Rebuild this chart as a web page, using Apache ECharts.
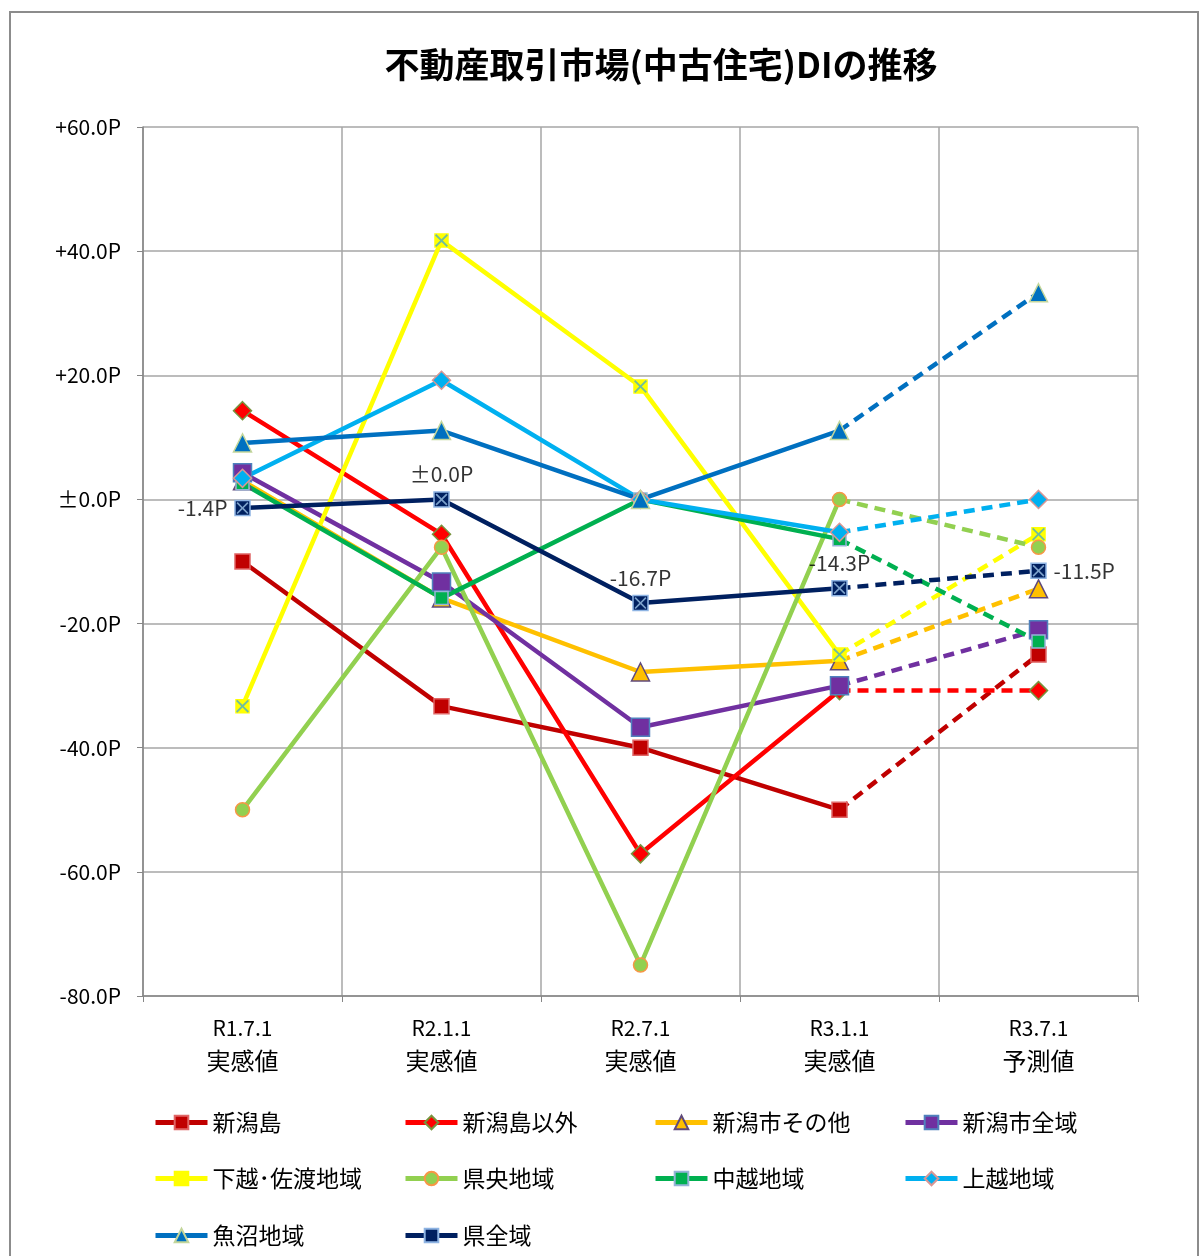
<!DOCTYPE html>
<html>
<head>
<meta charset="utf-8">
<script src="https://cdn.jsdelivr.net/npm/echarts@6/dist/echarts.min.js"></script>
<style>
  html, body { margin: 0; padding: 0; background: #fff; }
  #chart { width: 1201px; height: 1256px; }
</style>
</head>
<body>
<div id="chart"></div>
<script>
const categories = ['R1.7.1|実感値', 'R2.1.1|実感値', 'R2.7.1|実感値', 'R3.1.1|実感値', 'R3.7.1|予測値'];
const yTicks = [-80, -60, -40, -20, 0, 20, 40, 60];

const niigataJima = [-10.0, -33.3, -40.0, -50.0, -25.0];
const niigataJimaIgai = [14.3, -5.6, -57.1, -30.8, -30.8];
const niigataShiSonota = [3.0, -15.9, -27.8, -26.0, -14.4];
const niigataShiZen = [4.3, -13.3, -36.7, -30.0, -21.0];
const kaetsuSado = [-33.3, 41.7, 18.2, -25.0, -5.6];
const kenou = [-50.0, -7.7, -75.0, 0.0, -7.7];
const chuetsu = [2.6, -15.9, 0.0, -6.4, -22.9];
const joetsu = [3.4, 19.2, 0.0, -5.3, 0.0];
const uonuma = [9.1, 11.1, 0.0, 11.1, 33.3];
const kenZen = [-1.4, 0.0, -16.7, -14.3, -11.5];
const kenZenLabels = ['-1.4P', '±0.0P', '-16.7P', '-14.3P', '-11.5P'];

const font = '"Noto Sans CJK JP", "Noto Sans", sans-serif';
const xPath = 'path://M0,2 L2,0 L10,8 L18,0 L20,2 L12,10 L20,18 L18,20 L10,12 L2,20 L0,18 L8,10 Z';

const defs = [
    { name: '新潟島', data: niigataJima, color: '#C00000', border: '#E06666', symbol: 'rect', size: 15 },
    { name: '新潟島以外', data: niigataJimaIgai, color: '#FF0000', border: '#77933C', symbol: 'diamond', size: 18 },
    { name: '新潟市その他', data: niigataShiSonota, color: '#FFC000', border: '#604A7B', symbol: 'triangle', size: 18 },
    { name: '新潟市全域', data: niigataShiZen, color: '#7030A0', border: '#4F81BD', symbol: 'rect', size: 18 },
    { name: '下越･佐渡地域', data: kaetsuSado, color: '#FFFF00', border: '#FFFF00', symbol: 'rect', size: 13 },
    { name: '県央地域', data: kenou, color: '#92D050', border: '#F79646', symbol: 'circle', size: 14 },
    { name: '中越地域', data: chuetsu, color: '#00B050', border: '#95B3D7', symbol: 'rect', size: 13 },
    { name: '上越地域', data: joetsu, color: '#00B0F0', border: '#D99694', symbol: 'diamond', size: 18 },
    { name: '魚沼地域', data: uonuma, color: '#0070C0', border: '#C3D69B', symbol: 'triangle', size: 18 },
    { name: '県全域', data: kenZen, color: '#002060', border: '#8EB4E3', symbol: 'rect', size: 15 }
];

const series = [];
defs.forEach(d => {
    const markStyle = { color: d.color, borderColor: d.border, borderWidth: 1.5 };
    // solid part: first four points
    series.push({
        name: d.name,
        type: 'line',
        data: d.data.slice(0, 4).concat([null]),
        symbol: d.symbol,
        symbolSize: d.size,
        lineStyle: { color: d.color, width: 4.5 },
        itemStyle: markStyle,
        emphasis: { disabled: true },
        z: 3
    });
    // dashed part: forecast segment
    series.push({
        name: d.name,
        type: 'line',
        data: [null, null, null, { value: d.data[3], symbol: 'none' }, d.data[4]],
        symbol: d.symbol,
        symbolSize: d.size,
        lineStyle: { color: d.color, width: 4.5, type: [11, 7] },
        itemStyle: markStyle,
        emphasis: { disabled: true },
        z: 3
    });
});

// X marks drawn over the square markers
series.push({
    name: '下越X',
    type: 'scatter',
    data: kaetsuSado,
    symbol: xPath,
    symbolSize: 13,
    itemStyle: { color: '#4BACC6' },
    emphasis: { disabled: true },
    z: 4
});

const labelPos = ['left', 'top', 'top', 'top', 'right'];
series.push({
    name: '県全域X',
    type: 'scatter',
    data: kenZen.map((v, i) => ({
        value: v,
        label: { show: true, position: labelPos[i], formatter: kenZenLabels[i] }
    })),
    symbol: xPath,
    symbolSize: 12,
    itemStyle: { color: '#9BC2E6' },
    label: { color: '#000', fontSize: 21, fontFamily: font, distance: 9 },
    emphasis: { disabled: true },
    z: 4
});

// one legend per item so the columns line up like the original
const legendTop = [1106, 1162, 1219];
const legends = defs.map((d, i) => ({
    left: 148 + (i % 4) * 250,
    top: legendTop[Math.floor(i / 4)],
    itemWidth: 52,
    itemHeight: 17,
    lineStyle: { width: 5 },
    data: [d.name],
    textStyle: { fontSize: 23, color: '#000', fontFamily: font }
}));

const chart = echarts.init(document.getElementById('chart'));
chart.setOption({
    animation: false,
    backgroundColor: '#fff',
    title: {
        text: '不動産取引市場(中古住宅)DIの推移',
        left: 656,
        top: 42,
        textAlign: 'center',
        textStyle: { fontSize: 35, fontWeight: 'bold', color: '#000', fontFamily: font }
    },
    graphic: [{
        type: 'rect',
        shape: { x: 10, y: 12, width: 1188, height: 1260 },
        style: { fill: 'none', stroke: '#8c8c8c', lineWidth: 2 },
        silent: true
    }],
    legend: legends,
    grid: { left: 143, right: 63, top: 127, bottom: 260 },
    xAxis: {
        type: 'category',
        data: categories,
        boundaryGap: true,
        axisLine: { onZero: false, lineStyle: { color: '#868686', width: 1.5 } },
        axisTick: { show: true, length: 6, lineStyle: { color: '#868686' } },
        splitLine: { show: true, lineStyle: { color: '#a6a6a6', width: 1.5 } },
        axisLabel: {
            margin: 17,
            formatter: v => {
                const p = v.split('|');
                return '{a|' + p[0] + '}\n{b|' + p[1] + '}';
            },
            rich: {
                a: { fontSize: 21, lineHeight: 31, color: '#000', fontFamily: font },
                b: { fontSize: 24, lineHeight: 33, color: '#000', fontFamily: font }
            }
        }
    },
    yAxis: {
        type: 'value',
        min: yTicks[0],
        max: yTicks[yTicks.length - 1],
        interval: 20,
        axisLine: { show: true, lineStyle: { color: '#868686', width: 1.5 } },
        axisTick: { show: true, length: 6, lineStyle: { color: '#868686' } },
        splitLine: { show: true, lineStyle: { color: '#a6a6a6', width: 1.5 } },
        axisLabel: {
            margin: 22,
            fontSize: 21,
            color: '#000',
            fontFamily: font,
            formatter: v => v > 0 ? '+' + v.toFixed(1) + 'P' : (v === 0 ? '±0.0P' : v.toFixed(1) + 'P')
        }
    },
    series: series
});
window.addEventListener('resize', () => {
    chart.resize();
});
</script>
</body>
</html>
